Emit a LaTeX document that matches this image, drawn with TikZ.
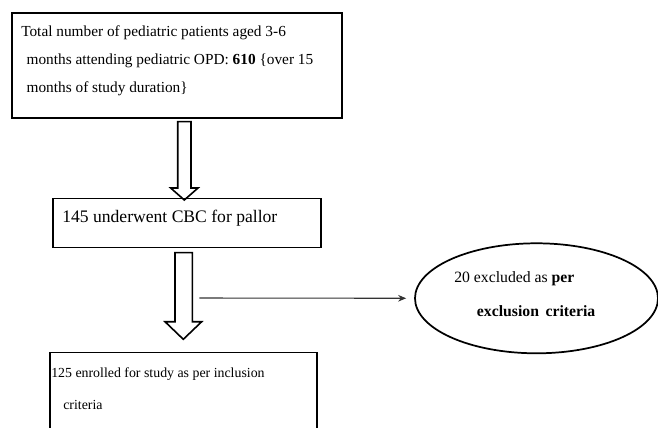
\documentclass[tikz,border=0pt]{standalone}
\usepackage{fontspec}
\setmainfont{Liberation Serif}
\usetikzlibrary{arrows.meta,shapes.geometric}

\begin{document}
\begin{tikzpicture}[x=0.75pt, y=-0.75pt,
    boxline/.style={draw, line width=1.3pt, inner sep=0pt, anchor=north west},
    blockarrow/.style={draw, line width=1.2pt, fill=white, line join=miter},
    boxtext/.style={anchor=west, inner sep=0pt, align=left}]
    \useasboundingbox (0,0) rectangle (658,428);
    \clip (0,0) rectangle (658,428);

    % Kasten 1
    \node[boxline, minimum width=330*0.75pt, minimum height=105*0.75pt] (total) at (11,12) {};
    \node[boxtext, font=\fontsize{11.5}{21}\selectfont, anchor=north west] (totaltext) at (21,25)
        {Total number of pediatric patients aged 3-6\\
         \hspace*{4pt}months attending pediatric OPD: \textbf{610} \{over 15\\
         \hspace*{4pt}months of study duration\}};

    % Pfeil 1
    \draw[blockarrow] (177.7,121.7) -- (177.7,188) -- (170.7,188) -- (184.3,200)
        -- (198,188) -- (191,188) -- (191,121.7) -- cycle;

    % Kasten 2
    \node[boxline, minimum width=268*0.75pt, minimum height=49*0.75pt] (cbc) at (52,197.7) {};
    \node[boxtext, font=\fontsize{13.2}{15}\selectfont] (cbctext) at (62,218) {145 underwent CBC for pallor};

    % Pfeil 2
    \draw[blockarrow] (175,252.7) -- (175,321.7) -- (165,321.7) -- (183.3,339.3)
        -- (201.7,321.7) -- (192.3,321.7) -- (192.3,252.7) -- cycle;

    % Ausschluss
    \node[draw, ellipse, line width=1.3pt, minimum width=243*0.75pt, minimum height=110*0.75pt] (excl) at (536.5,298.3) {};
    \node[boxtext, font=\fontsize{11.8}{25}\selectfont] (excltext) at (454,294)
        {20 excluded as \textbf{per}\\ \hspace*{17pt}\textbf{exclusion\, criteria}};
    \coordinate (split) at (199.3,298);
    \draw[black!80, line width=0.8pt, -{Stealth[length=6pt, width=5pt]}, shorten >=6pt] (split) -- (excl.west);

    % Kasten 3
    \node[boxline, minimum width=267*0.75pt, minimum height=110*0.75pt] (enrol) at (49,351.7) {};
    \node[boxtext, font=\fontsize{10.4}{24}\selectfont] (enroltext) at (51,389)
        {125 enrolled for study as per inclusion\\ \hspace*{9pt}criteria};
\end{tikzpicture}
\end{document}
